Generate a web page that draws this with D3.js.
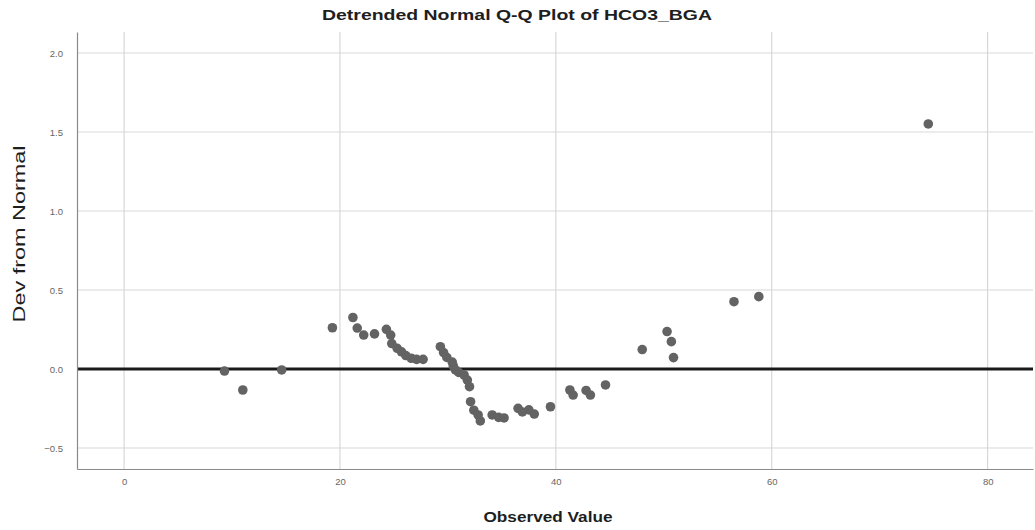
<!DOCTYPE html>
<html>
<head>
<meta charset="utf-8">
<script src="https://cdn.jsdelivr.net/npm/d3@7"></script>
<style>
  body { margin: 0; background: #fff; }
  text { font-family: "Liberation Sans", Arial, sans-serif; }
</style>
</head>
<body>
<svg class="chart"></svg>
<script>
// observed HCO3_BGA values and their deviation from normal
var observed = [9.3, 11.0, 14.6, 19.3, 21.2, 21.6, 22.2, 23.2, 24.3, 24.7, 24.8, 25.3, 25.7,
  26.1, 26.6, 27.1, 27.7, 29.3, 29.6, 29.9, 30.4, 30.5, 30.7, 31.0, 31.5, 31.8, 32.0, 32.1,
  32.4, 32.8, 33.0, 34.1, 34.7, 35.2, 36.5, 36.9, 37.5, 38.0, 39.5, 41.3, 41.6, 42.8, 43.2,
  44.6, 48.0, 50.3, 50.7, 50.9, 56.5, 58.8, 74.5];
var deviation = [-0.013, -0.133, -0.006, 0.261, 0.326, 0.259, 0.215, 0.222, 0.251, 0.215, 0.161,
  0.131, 0.109, 0.085, 0.068, 0.061, 0.061, 0.141, 0.104, 0.073, 0.044, 0.019, -0.006, -0.022,
  -0.038, -0.070, -0.112, -0.207, -0.261, -0.291, -0.329, -0.291, -0.306, -0.310, -0.249,
  -0.272, -0.259, -0.285, -0.239, -0.133, -0.165, -0.136, -0.165, -0.101, 0.123, 0.237, 0.173,
  0.072, 0.426, 0.458, 1.551];
var xTicks = [0, 20, 40, 60, 80];
var yTicks = [-0.5, 0.0, 0.5, 1.0, 1.5, 2.0];

function show() {
    'use strict';
    var W = 1035, H = 530;
    var margin = {top: 32, right: 2, bottom: 61, left: 77},
        width = W - margin.left - margin.right,
        height = H - margin.top - margin.bottom;

    var svg = d3.select(".chart")
        .attr("width", W)
        .attr("height", H);

    var g = svg.append("g")
        .attr("transform", "translate(" + margin.left + "," + margin.top + ")");

    var x = d3.scaleLinear().domain([-4.36, 84.2]).range([0, width]);
    var y = d3.scaleLinear().domain([-0.633, 2.133]).range([height, 0]);

    // grid
    g.selectAll(".hgrid").data(yTicks).enter().append("line")
        .attr("x1", 0).attr("x2", width)
        .attr("y1", function(d) { return y(d); })
        .attr("y2", function(d) { return y(d); })
        .attr("stroke", "#d9d9d9").attr("stroke-width", 1);
    g.selectAll(".vgrid").data(xTicks).enter().append("line")
        .attr("y1", 0).attr("y2", height)
        .attr("x1", function(d) { return x(d); })
        .attr("x2", function(d) { return x(d); })
        .attr("stroke", "#d0d0d0").attr("stroke-width", 1);

    // zero reference line
    g.append("line")
        .attr("x1", 0).attr("x2", width)
        .attr("y1", y(0)).attr("y2", y(0))
        .attr("stroke", "#1a1a1a").attr("stroke-width", 3);

    // axes
    var xAxis = g.append("g")
        .attr("transform", "translate(0," + height + ")")
        .call(d3.axisBottom(x).tickValues(xTicks).tickSize(0).tickPadding(9)
            .tickFormat(d3.format("d")));
    var yAxis = g.append("g")
        .call(d3.axisLeft(y).tickValues(yTicks).tickSize(0).tickPadding(14)
            .tickFormat(d3.format(".1f")));
    [xAxis, yAxis].forEach(function(a) {
        a.select(".domain").attr("stroke", "#8a8a8a").attr("stroke-width", 1.2);
        a.selectAll("text").attr("fill", "#666").style("font-size", "9.5px")
            .style("font-family", "'Liberation Sans', Arial, sans-serif");
    });

    // points
    g.selectAll("circle").data(observed).enter().append("circle")
        .attr("cx", function(d) { return x(d); })
        .attr("cy", function(d, i) { return y(deviation[i]); })
        .attr("r", 4.8)
        .attr("fill", "#636363");

    // titles
    svg.append("text")
        .attr("x", 517).attr("y", 20)
        .attr("text-anchor", "middle")
        .attr("fill", "#1e1e1e")
        .attr("textLength", 390).attr("lengthAdjust", "spacingAndGlyphs")
        .style("font-size", "15px")
        .style("font-weight", "bold")
        .text("Detrended Normal Q-Q Plot of HCO3_BGA");
    svg.append("text")
        .attr("x", 548).attr("y", 522)
        .attr("text-anchor", "middle")
        .attr("fill", "#1e1e1e")
        .attr("textLength", 129).attr("lengthAdjust", "spacingAndGlyphs")
        .style("font-size", "15px")
        .style("font-weight", "bold")
        .text("Observed Value");
    svg.append("text")
        .attr("transform", "translate(25,234) rotate(-90)")
        .attr("text-anchor", "middle")
        .attr("fill", "#1e1e1e")
        .attr("textLength", 177).attr("lengthAdjust", "spacingAndGlyphs")
        .style("font-size", "16px")
        .text("Dev from Normal");
}
show();
</script>
</body>
</html>
